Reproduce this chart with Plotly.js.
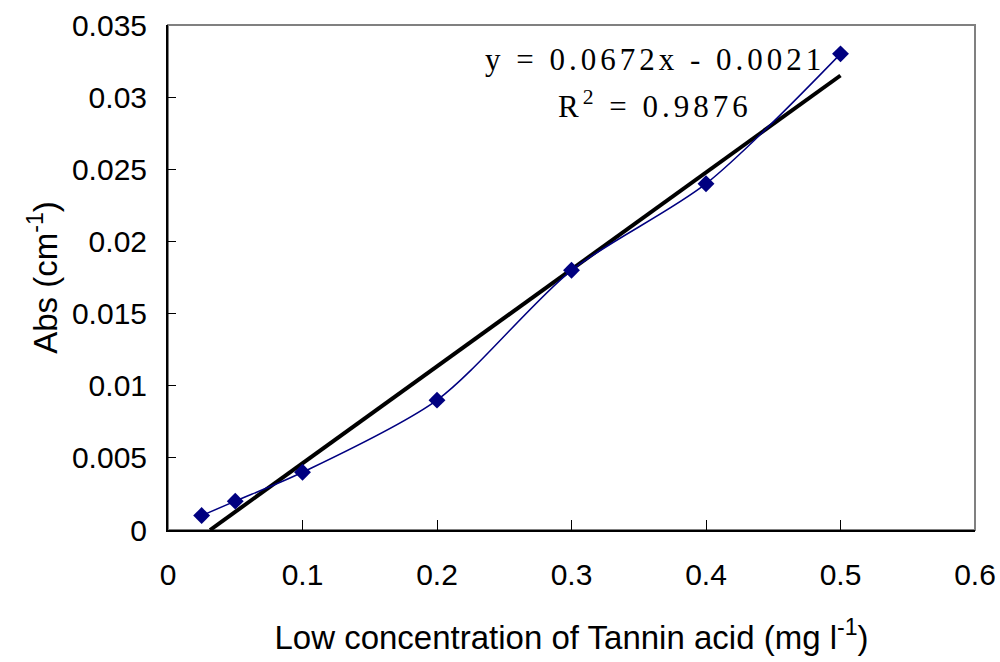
<!DOCTYPE html>
<html><head><meta charset="utf-8">
<script src="https://cdn.plot.ly/plotly-3.0.1.min.js"></script>
<style>html,body{margin:0;padding:0;background:#fff;}#chart{width:1000px;height:662px;}
.annotation-text{letter-spacing:4px;}</style>
</head><body><div id="chart"></div>
<script>
var concentration = [0.025, 0.05, 0.1, 0.2, 0.3, 0.4, 0.5];
var absorbance = [0.001, 0.002, 0.004, 0.009, 0.018, 0.024, 0.033];
var slope = 0.0672;
var intercept = -0.0021;
var rSquared = 0.9876;
var xTicks = [0, 0.1, 0.2, 0.3, 0.4, 0.5, 0.6];
var yTicks = [0, 0.005, 0.01, 0.015, 0.02, 0.025, 0.03, 0.035];

var trendX = [-intercept / slope, concentration[concentration.length - 1]];
var trendY = trendX.map(function (x) { return slope * x + intercept; });

var traces = [
  {x: trendX, y: trendY, mode: 'lines', line: {color: '#000000', width: 4}, hoverinfo: 'skip'},
  {x: concentration, y: absorbance, mode: 'lines+markers',
   line: {color: '#000080', width: 1.5, shape: 'spline', smoothing: 0.8},
   marker: {symbol: 'diamond', size: 13, color: '#000080'}}
];

var layout = {
  width: 1000, height: 662,
  margin: {l: 168, r: 25, t: 25, b: 132},
  paper_bgcolor: '#ffffff', plot_bgcolor: '#ffffff',
  showlegend: false,
  font: {family: 'Liberation Sans, Arial, sans-serif', color: '#000000', size: 30},
  xaxis: {
    range: [0, 0.6], tickvals: xTicks, ticktext: xTicks.map(String),
    ticks: 'inside', ticklen: 10, tickcolor: '#000', tickwidth: 1,
    showline: true, linecolor: '#000', linewidth: 2, showgrid: false, zeroline: false,
    tickfont: {size: 30}, ticklabelstandoff: 17,
    title: {text: 'Low concentration of Tannin acid (mg l<sup>-1</sup>)', font: {size: 33}, standoff: 36}
  },
  yaxis: {
    range: [0, 0.035], tickvals: yTicks, ticktext: yTicks.map(String),
    ticks: 'inside', ticklen: 8, tickcolor: '#000', tickwidth: 1,
    showline: true, linecolor: '#000', linewidth: 2, showgrid: false, zeroline: false,
    tickfont: {size: 30}, ticklabelstandoff: 13,
    title: {text: 'Abs (cm<sup>-1</sup>)', font: {size: 33}, standoff: 4}
  },
  shapes: [
    {type: 'rect', xref: 'paper', yref: 'paper', x0: 0, x1: 1, y0: 0, y1: 1,
     line: {color: '#808080', width: 2}, layer: 'below'}
  ],
  annotations: [
    {xref: 'paper', yref: 'paper', x: 0.603, y: 0.931, xanchor: 'center', yanchor: 'middle',
     text: 'y = ' + slope + 'x - ' + Math.abs(intercept), showarrow: false,
     font: {family: 'Liberation Serif, Times New Roman, serif', size: 31}},
    {xref: 'paper', yref: 'paper', x: 0.603, y: 0.842, xanchor: 'center', yanchor: 'middle',
     text: 'R<sup>2</sup> = ' + rSquared, showarrow: false,
     font: {family: 'Liberation Serif, Times New Roman, serif', size: 31}}
  ]
};
Plotly.newPlot('chart', traces, layout, {displayModeBar: false, staticPlot: true});
</script></body></html>
